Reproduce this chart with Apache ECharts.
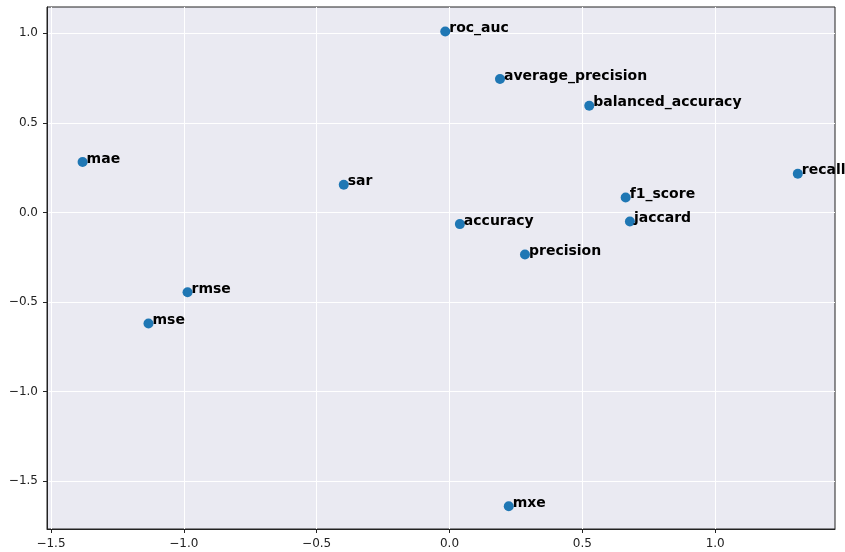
<!DOCTYPE html>
<html>
<head>
<meta charset="utf-8">
<script src="https://cdn.jsdelivr.net/npm/echarts@6/dist/echarts.min.js"></script>
<style>
  html, body { margin: 0; padding: 0; background: #fff; }
</style>
</head>
<body>
<div id="chart" style="width:845px;height:552px;"></div>
<script>
// metric names and their 2-D embedding coordinates
var names = ['roc_auc', 'average_precision', 'balanced_accuracy', 'mae', 'sar', 'recall',
             'f1_score', 'jaccard', 'accuracy', 'precision', 'rmse', 'mse', 'mxe'];
var xVals = [-0.016, 0.19, 0.526, -1.381, -0.398, 1.311, 0.663, 0.679, 0.039, 0.284, -0.986, -1.133, 0.223];
var yVals = [1.01, 0.745, 0.596, 0.282, 0.155, 0.216, 0.084, -0.05, -0.065, -0.235, -0.445, -0.62, -1.64];
var xTicks = [-1.5, -1.0, -0.5, 0.0, 0.5, 1.0];
var yTicks = [-1.5, -1.0, -0.5, 0.0, 0.5, 1.0];

var points = names.map(function (n, i) {
    return { name: n, value: [xVals[i], yVals[i]] };
});

function fmt(v) {
    return v.toFixed(1).replace('-', '\u2212');
}

var axisCommon = {
    type: 'value',
    axisLine: { show: true, onZero: false, lineStyle: { color: '#222', width: 1 } },
    axisTick: { show: true, length: 4, lineStyle: { color: '#222' } },
    axisLabel: { color: '#222', fontSize: 12, fontFamily: 'DejaVu Sans', formatter: fmt },
    splitLine: { show: true, lineStyle: { color: '#ffffff', width: 1 } }
};

var option = {
    animation: false,
    backgroundColor: '#ffffff',
    grid: {
        left: 47, right: 10, top: 7, bottom: 23,
        show: true,
        backgroundColor: '#EAEAF2',
        borderColor: '#222',
        borderWidth: 1
    },
    xAxis: echarts.util.merge({
        min: -1.515, max: 1.451,
        axisTick: { customValues: xTicks },
        axisLabel: { customValues: xTicks, margin: 9 },
        splitLine: { customValues: xTicks }
    }, axisCommon),
    yAxis: echarts.util.merge({
        min: -1.767, max: 1.147,
        axisTick: { customValues: yTicks },
        axisLabel: { customValues: yTicks, margin: 9 },
        splitLine: { customValues: yTicks }
    }, axisCommon),
    series: [{
        type: 'scatter',
        data: points,
        symbolSize: 10,
        itemStyle: { color: '#1f77b4', opacity: 1 },
        label: {
            show: true,
            position: 'right',
            distance: -1,
            offset: [0, -3],
            formatter: '{b}',
            color: '#000',
            fontWeight: 'bold',
            fontSize: 14,
            fontFamily: 'DejaVu Sans'
        }
    }]
};

var chart = echarts.init(document.getElementById('chart'));
chart.setOption(option);
</script>
</body>
</html>
